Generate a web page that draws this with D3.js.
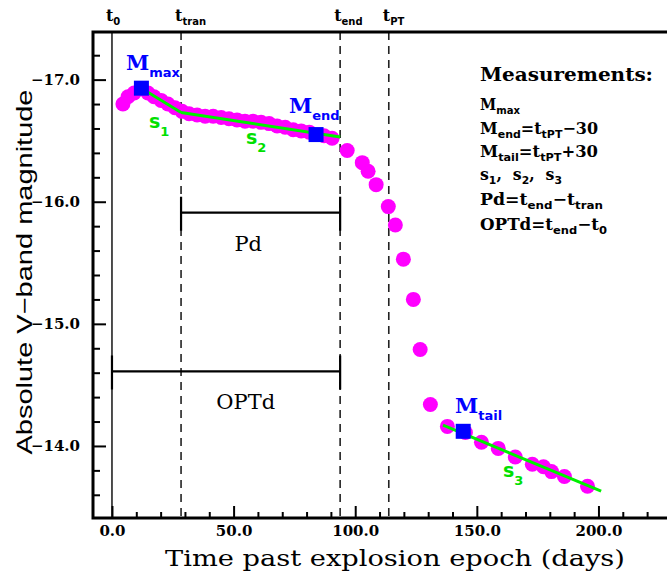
<!DOCTYPE html>
<html>
<head>
<meta charset="utf-8">
<script src="https://cdn.jsdelivr.net/npm/d3@7"></script>
<style>
  html, body { margin: 0; padding: 0; background: #fff; }
  svg { display: block; }
</style>
</head>
<body>
<div id="chart"></div>
<script>
// light curve points (days past explosion, absolute V mag)
const days = [4.5, 6.6, 9.1, 14.8, 17.3, 20.2, 23.0, 25.9, 28.8, 31.7, 35.0, 38.3, 41.6, 44.9,
  48.1, 51.4, 54.7, 58.0, 61.3, 64.6, 67.9, 71.2, 74.5, 77.8, 81.1, 87.2, 90.5,
  96.7, 102.9, 105.3, 108.6, 113.6, 116.5, 119.8, 123.9, 126.7, 130.9,
  137.9, 145.3, 151.9, 158.8, 165.8, 172.8, 177.4, 180.7, 186.0, 195.5]
const mags = [-16.80, -16.86, -16.89, -16.89, -16.86, -16.83, -16.80, -16.77, -16.74, -16.72, -16.71, -16.70, -16.70, -16.69,
  -16.68, -16.67, -16.66, -16.66, -16.65, -16.64, -16.62, -16.61, -16.59, -16.58, -16.57, -16.54, -16.52,
  -16.42, -16.32, -16.25, -16.14, -15.96, -15.81, -15.53, -15.20, -14.79, -14.34,
  -14.16, -14.11, -14.03, -13.98, -13.91, -13.85, -13.83, -13.79, -13.75, -13.67]

// linear fits s1, s2, s3
const fitNames = ['1', '2', '3']
const fitDays = [[12.1, 28.4], [28.4, 93.8], [136.1, 201.1]]
const fitMags = [[-16.93, -16.73], [-16.73, -16.53], [-14.17, -13.63]]

// measured points
const keyNames = ['max', 'end', 'tail']
const keyDays = [12.1, 83.9, 144.4]
const keyMags = [-16.93, -16.55, -14.12]

// epochs
const epochNames = ['0', 'tran', 'end', 'PT']
const epochDays = [0, 28.4, 93.8, 113.8]

// ticks
const xMajor = [0, 50, 100, 150, 200]
const xMinor = [10, 20, 30, 40, 60, 70, 80, 90, 110, 120, 130, 140, 160, 170, 180, 190, 210, 220]
const yMajor = [-17, -16, -15, -14]
const yMinor = [-17.2, -16.8, -16.6, -16.4, -16.2, -15.8, -15.6, -15.4, -15.2, -14.8, -14.6, -14.4, -14.2, -13.8, -13.6]

const measureLines = ['M_{max}', 'M_{end}=t_{tPT}\u221230', 'M_{tail}=t_{tPT}+30',
  's_{1},  s_{2},  s_{3}', 'Pd=t_{end}\u2212t_{tran}', 'OPTd=t_{end}\u2212t_{0}']
const measureWidth = [40, 118, 118, 82, 123, 127]

const W = 667
const H = 577
const serif = '"DejaVu Serif", serif'
const sans = '"DejaVu Sans", sans-serif'

const svg = d3.select('#chart').append('svg')
  .attr('width', W).attr('height', H)

const x = d3.scaleLinear().domain([-7.8, 229]).range([93, 669])
const y = d3.scaleLinear().domain([-17.39, -13.41]).range([32, 518])

// text with _{sub} parts
function richText (sel, px, py, str, opt) {
  const t = sel.append('text')
    .attr('x', px).attr('y', py)
    .attr('fill', opt.color || '#000')
    .attr('text-anchor', opt.anchor || 'start')
  const parts = str.split(/(_\{[^}]*\})/).filter(s => s.length)
  let shift = 0
  parts.forEach(p => {
    const sub = p.startsWith('_{')
    const txt = sub ? p.slice(2, -1) : p
    const s = t.append('tspan').text(txt)
      .style('font-family', sub ? opt.subFont || sans : opt.font || serif)
      .style('font-size', (sub ? opt.subSize : opt.size) + 'px')
      .style('font-weight', sub ? 'bold' : (opt.weight || 'normal'))
      .style('white-space', 'pre')
    const want = sub ? opt.drop : 0
    if (want !== shift) { s.attr('dy', want - shift); shift = want }
  })
  if (opt.width) t.attr('textLength', opt.width).attr('lengthAdjust', 'spacingAndGlyphs')
  return t
}

// epoch lines
svg.selectAll('line.epoch')
  .data(epochDays)
  .enter().append('line')
  .attr('class', 'epoch')
  .attr('x1', d => x(d)).attr('x2', d => x(d))
  .attr('y1', y.range()[0]).attr('y2', y.range()[1])
  .attr('stroke', '#222')
  .attr('stroke-width', 1.6)
  .attr('stroke-dasharray', (d, i) => i === 0 ? null : '8,6')

epochNames.forEach((n, i) => {
  richText(svg, x(epochDays[i]) - 6, 21, 't_{' + n + '}',
    { size: 16, subSize: 10, drop: 4, font: serif, weight: 'bold' })
})

// Pd and OPTd bars
const bars = [
  { from: epochDays[1], to: epochDays[2], mag: -15.91, label: 'Pd', at: 56 },
  { from: epochDays[0], to: epochDays[2], mag: -14.61, label: 'OPTd', at: 55 }
]
bars.forEach(b => {
  const g = svg.append('g').attr('stroke', '#000').attr('stroke-width', 2.2)
  g.append('line').attr('x1', x(b.from)).attr('x2', x(b.to)).attr('y1', y(b.mag)).attr('y2', y(b.mag))
  ;[b.from, b.to].forEach(d => {
    g.append('line').attr('x1', x(d)).attr('x2', x(d))
      .attr('y1', y(b.mag) - 16).attr('y2', y(b.mag) + 18)
  })
  svg.append('text')
    .attr('x', x(b.at)).attr('y', y(b.mag) + 38)
    .attr('text-anchor', 'middle')
    .style('font-family', serif).style('font-size', '21px')
    .text(b.label)
})

// data points
svg.selectAll('circle.pt')
  .data(days)
  .enter().append('circle')
  .attr('class', 'pt')
  .attr('cx', d => x(d))
  .attr('cy', (d, i) => y(mags[i]))
  .attr('r', 7.5)
  .attr('fill', '#ff00ff')

// fits
const line = d3.line().x(d => x(d[0])).y(d => y(d[1]))
fitDays.forEach((fd, i) => {
  svg.append('path')
    .attr('d', line(fd.map((d, j) => [d, fitMags[i][j]])))
    .attr('fill', 'none')
    .attr('stroke', '#00f000')
    .attr('stroke-width', 3)
})

// measured squares
svg.selectAll('rect.key')
  .data(keyDays)
  .enter().append('rect')
  .attr('class', 'key')
  .attr('x', d => x(d) - 7.5)
  .attr('y', (d, i) => y(keyMags[i]) - 7.5)
  .attr('width', 15).attr('height', 15)
  .attr('fill', '#0000ff')

// square labels
const keyLabelPos = [[126, 70], [289, 113], [455, 413]]
keyNames.forEach((n, i) => {
  richText(svg, keyLabelPos[i][0], keyLabelPos[i][1], 'M_{' + n + '}',
    { size: 21, subSize: 13, drop: 7, color: '#0000ff', weight: 'bold' })
})

// slope labels
const slopeLabelPos = [[149, 128], [246, 144], [503, 477]]
fitNames.forEach((n, i) => {
  richText(svg, slopeLabelPos[i][0], slopeLabelPos[i][1], 's_{' + n + '}',
    { size: 19, subSize: 13, drop: 8, color: '#00e000', weight: 'bold', font: sans })
})

// axes
svg.append('g').attr('transform', `translate(${x.range()[0]},0)`)
  .call(d3.axisLeft(y).tickValues(yMajor).tickSize(-13).tickPadding(13).tickFormat(d3.format('.1f')))
svg.append('g').attr('transform', `translate(${x.range()[0]},0)`)
  .call(d3.axisLeft(y).tickValues(yMinor).tickSize(-7).tickFormat(''))
svg.append('g').attr('transform', `translate(0,${y.range()[1]})`)
  .call(d3.axisBottom(x).tickValues(xMajor).tickSize(-12).tickPadding(7).tickFormat(d3.format('.1f')))
svg.append('g').attr('transform', `translate(0,${y.range()[1]})`)
  .call(d3.axisBottom(x).tickValues(xMinor).tickSize(-6).tickFormat(''))

svg.selectAll('.domain').remove()
svg.selectAll('.tick line').attr('stroke', '#000').attr('stroke-width', 2)
svg.selectAll('.tick text')
  .attr('fill', '#000')
  .style('font-family', serif).style('font-size', '15px').style('font-weight', 'bold')

// frame
svg.append('rect')
  .attr('x', x.range()[0]).attr('y', y.range()[0])
  .attr('width', x.range()[1] - x.range()[0])
  .attr('height', y.range()[1] - y.range()[0])
  .attr('fill', 'none').attr('stroke', '#000').attr('stroke-width', 3)

// axis titles
svg.append('text')
  .attr('x', 395).attr('y', 566)
  .attr('text-anchor', 'middle')
  .attr('textLength', 460).attr('lengthAdjust', 'spacingAndGlyphs')
  .style('font-family', serif).style('font-size', '22px')
  .text('Time past explosion epoch (days)')
svg.append('text')
  .attr('transform', 'translate(32,272) rotate(-90)')
  .attr('text-anchor', 'middle')
  .attr('textLength', 365).attr('lengthAdjust', 'spacingAndGlyphs')
  .style('font-family', '"Liberation Sans", Arial, sans-serif').style('font-size', '22px')
  .text('Absolute V\u2212band magnitude')

// measurements block
svg.append('text')
  .attr('x', 480).attr('y', 81)
  .attr('textLength', 173).attr('lengthAdjust', 'spacingAndGlyphs')
  .style('font-family', serif).style('font-size', '18px').style('font-weight', 'bold')
  .text('Measurements:')
const measureY = [110, 134, 157, 180, 205, 230]
measureLines.forEach((s, i) => {
  richText(svg, 480, measureY[i], s,
    { size: 16, subSize: 11, drop: 4, weight: 'bold', width: measureWidth[i] })
})
</script>
</body>
</html>
